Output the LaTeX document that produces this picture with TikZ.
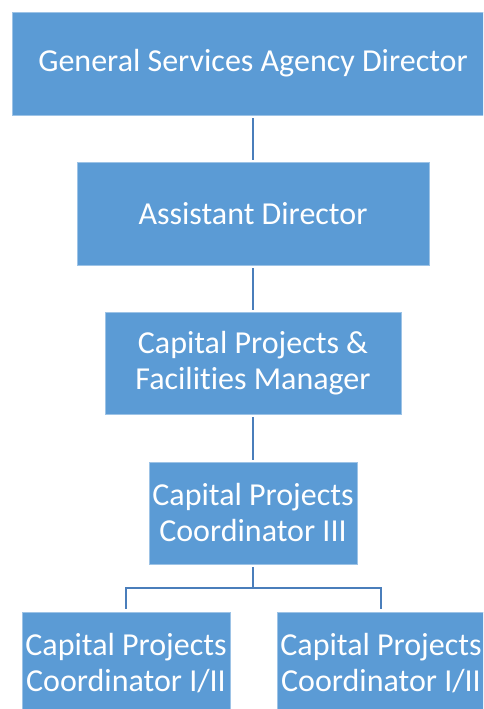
\documentclass[tikz,border=0pt]{standalone}
\usepackage{fontspec}
\setmainfont[Ligatures={NoCommon}]{Carlito}
\definecolor{boxblue}{HTML}{5B9BD5}
\definecolor{edgeblue}{HTML}{9DC3E6}
\definecolor{lineblue}{HTML}{4A7EBB}
\tikzset{
  orgbox/.style={rectangle, fill=boxblue, draw=edgeblue, line width=0.6pt,
    text=white, align=center, inner sep=0pt,
    font=\fontsize{32}{36}\selectfont},
  link/.style={draw=lineblue, line width=2.2pt}
}
\begin{document}
\begin{tikzpicture}[x=1pt,y=-1pt]
\useasboundingbox (0,0) rectangle (483,709);
\clip (0,0) rectangle (483,709);
\node[orgbox, minimum width=482pt, minimum height=103pt] (a) at (253,63.5) {General Services Agency Director};
\node[orgbox, minimum width=352pt, minimum height=103pt] (b) at (253,213.5) {Assistant Director};
\node[orgbox, minimum width=296pt, minimum height=102pt] (c) at (253,363) {Capital Projects \&\\Facilities Manager};
\node[orgbox, minimum width=208pt, minimum height=102pt] (d) at (253,513) {Capital Projects\\Coordinator III};
\node[orgbox, minimum width=208pt, minimum height=102pt] (e) at (126,663) {Capital Projects\\Coordinator I/II};
\node[orgbox, minimum width=208pt, minimum height=102pt] (f) at (381,663) {Capital Projects\\Coordinator I/II};
\coordinate (j) at (253,588);
\draw[link, shorten <=3pt, shorten >=2pt] (a.south) -- (b.north);
\draw[link, shorten <=3pt, shorten >=2pt] (b.south) -- (c.north);
\draw[link, shorten <=3pt, shorten >=2pt] (c.south) -- (d.north);
\draw[link, shorten <=3pt] (d.south) -- (j);
\draw[link, shorten >=3pt] (j) -| (e.north);
\draw[link, shorten >=3pt] (j) -| (f.north);
\end{tikzpicture}
\end{document}
